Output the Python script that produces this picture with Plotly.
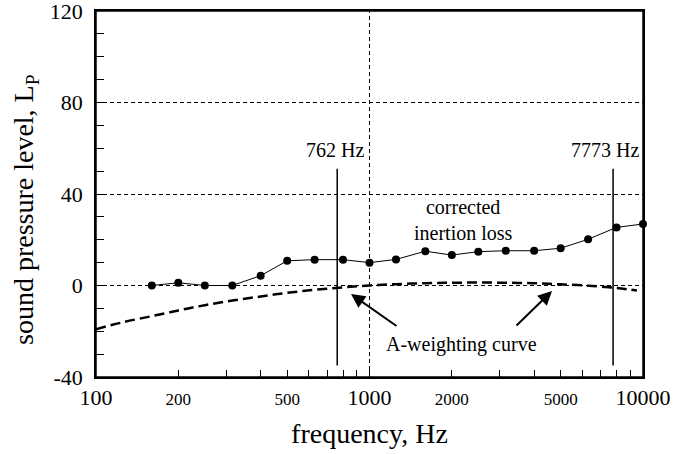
import plotly.graph_objects as go

# Data
freq_il = [160, 200, 250, 315, 400, 500, 630, 800, 1000, 1250, 1600, 2000, 2500,
           3150, 4000, 5000, 6300, 8000, 10000]
il_values = [0.0, 1.2, 0.0, 0.0, 4.3, 10.8, 11.3, 11.3, 10.0, 11.4, 15.0, 13.3, 14.8,
             15.2, 15.2, 16.3, 20.2, 25.4, 26.9]

freq_aw = [100, 125, 160, 200, 250, 315, 400, 500, 630, 800, 1000, 1250, 1600, 2000,
           2500, 3150, 4000, 5000, 6300, 8000, 9500]
aw_values = [-19.1, -16.1, -13.4, -10.9, -8.6, -6.6, -4.8, -3.2, -1.9, -0.8, 0.0, 0.6,
             1.0, 1.2, 1.3, 1.2, 1.0, 0.5, -0.1, -1.1, -2.2]

marker_freqs = [762, 7773]
marker_y = [-35, 51]
marker_labels = ["762 Hz", "7773 Hz"]

x_tickvals = [100, 200, 300, 400, 500, 600, 700, 800, 900, 1000,
              2000, 3000, 4000, 5000, 6000, 7000, 8000, 9000, 10000]
x_big = {100: "100", 1000: "1000", 10000: "10000"}
x_small = {200: "200", 500: "500", 2000: "2000", 5000: "5000"}

y_major = [-40, 0, 40, 80, 120]
y_minor = [-30, -20, -10, 10, 20, 30, 50, 60, 70, 90, 100, 110]

FONT = "Liberation Serif"

def xlabel(v):
    if v in x_big:
        return x_big[v]
    if v in x_small:
        return '<span style="font-size:17px">%s</span>' % x_small[v]
    return " "

fig = go.Figure()

# vertical dashed grid line at 1000 Hz
fig.add_trace(go.Scatter(x=[1000, 1000], y=[-40, 120], mode="lines",
                         line=dict(color="black", width=1, dash="4px,3px"),
                         hoverinfo="skip", showlegend=False))

# A-weighting curve
fig.add_trace(go.Scatter(x=freq_aw, y=aw_values, mode="lines", line_shape="spline",
                         line=dict(color="black", width=2.5, dash="10px,5px"),
                         showlegend=False))

# corrected insertion loss
fig.add_trace(go.Scatter(x=freq_il, y=il_values, mode="lines+markers",
                         line=dict(color="black", width=1),
                         marker=dict(color="black", size=8),
                         cliponaxis=False, showlegend=False))

# vertical frequency marker lines
for f in marker_freqs:
    fig.add_trace(go.Scatter(x=[f, f], y=marker_y, mode="lines",
                             line=dict(color="black", width=1.5),
                             showlegend=False))

fig.update_layout(
    width=673, height=454,
    margin=dict(l=96, r=30, t=11, b=77),
    paper_bgcolor="white", plot_bgcolor="white",
    font=dict(family=FONT, color="black", size=22),
    showlegend=False,
)

fig.update_xaxes(
    type="log", range=[2, 4], automargin=False,
    tickvals=x_tickvals, ticktext=[xlabel(v) for v in x_tickvals], tickangle=0,
    ticks="inside", ticklen=7, tickwidth=1, tickcolor="black",
    ticklabeloverflow="allow",
    showgrid=False, zeroline=False,
    showline=True, linewidth=1.5, linecolor="black", mirror=True,
    tickfont=dict(family=FONT, size=22),
    title=dict(text="frequency, Hz", font=dict(family=FONT, size=28), standoff=14),
)

fig.update_yaxes(
    range=[-40, 120], automargin=False,
    tickvals=y_major, ticktext=[str(v) for v in y_major],
    ticks="inside", ticklen=8, tickwidth=1, tickcolor="black",
    ticklabeloverflow="allow", ticklabelstandoff=7,
    showgrid=True, gridcolor="black", gridwidth=1, griddash="4px,3px",
    zeroline=False,
    minor=dict(tickvals=y_minor, ticks="inside", ticklen=8, tickcolor="black", showgrid=False),
    showline=True, linewidth=1.5, linecolor="black", mirror=True,
    tickfont=dict(family=FONT, size=22),
)

# y-axis title placed as rotated text
fig.add_annotation(text="sound pressure level, L<sub>P</sub>", xref="paper", yref="paper",
                   x=(25 - 96) / 547, y=(377 - 210) / 366, xanchor="center", yanchor="middle",
                   textangle=-90, showarrow=False, font=dict(family=FONT, size=28))

# frame around plot area
fig.add_shape(type="rect", xref="paper", yref="paper", x0=0, x1=1, y0=0, y1=1,
              line=dict(color="black", width=1.5), layer="above")

# labels for marker lines
fig.add_annotation(text=marker_labels[0], xref="paper", yref="paper",
                   x=(366 - 96) / 547, y=(377 - 150) / 366, xanchor="right", yanchor="middle",
                   showarrow=False, font=dict(family=FONT, size=20))
fig.add_annotation(text=marker_labels[1], xref="paper", yref="paper",
                   x=(641 - 96) / 547, y=(377 - 150) / 366, xanchor="right", yanchor="middle",
                   showarrow=False, font=dict(family=FONT, size=20))

fig.add_annotation(text="corrected<br>inertion loss", xref="paper", yref="paper",
                   x=(463 - 96) / 547, y=(377 - 220) / 366, xanchor="center", yanchor="middle",
                   showarrow=False, font=dict(family=FONT, size=20))

fig.add_annotation(text="A-weighting curve", xref="paper", yref="paper",
                   x=(461 - 96) / 547, y=(377 - 344) / 366, xanchor="center", yanchor="middle",
                   showarrow=False, font=dict(family=FONT, size=20))

# arrows
fig.add_annotation(text="", xref="paper", yref="paper",
                   x=(351 - 96) / 547, y=(377 - 294) / 366, ax=47, ay=33,
                   showarrow=True, arrowhead=2, arrowsize=1.4, arrowwidth=2, arrowcolor="black")
fig.add_annotation(text="", xref="paper", yref="paper",
                   x=(552 - 96) / 547, y=(377 - 291) / 366, ax=-37, ay=36,
                   showarrow=True, arrowhead=2, arrowsize=1.4, arrowwidth=2, arrowcolor="black")

fig.write_html("out.html", config={"displayModeBar": False},
               post_script="document.body.style.margin='0';document.body.style.overflow='hidden';")
